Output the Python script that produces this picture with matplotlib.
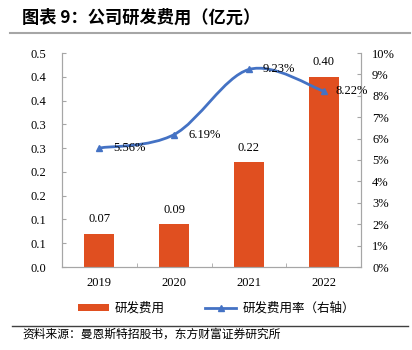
import matplotlib
matplotlib.use('Agg')
import numpy as np
import matplotlib.pyplot as plt
from matplotlib.path import Path
from matplotlib.patches import PathPatch, Patch
from matplotlib.lines import Line2D

# data
years = ['2019', '2020', '2021', '2022']
rd_cost = [0.07, 0.09, 0.22, 0.40]          # 亿元
rd_ratio = [5.56, 6.19, 9.23, 8.22]         # %
left_ticks = [0.0, 0.05, 0.10, 0.15, 0.20, 0.25, 0.30, 0.35, 0.40, 0.45]
left_tick_labels = ['0.0', '0.1', '0.1', '0.2', '0.2', '0.3', '0.3', '0.4', '0.4', '0.5']
right_ticks = [0, 1, 2, 3, 4, 5, 6, 7, 8, 9, 10]

bar_color = '#E04F20'
line_color = '#4472C4'
spine_color = '#A6A6A6'
num_font = 'Liberation Serif'
cjk_font = ['Noto Sans CJK SC', 'DejaVu Sans']

fig = plt.figure(figsize=(4.12, 3.5), dpi=100)
ax = fig.add_axes([62/412, 1-267/350, 299/412, 214/350])
ax2 = ax.twinx()

x = np.arange(len(years))
ax.bar(x, rd_cost, width=0.4, color=bar_color, zorder=2)
for xi, v in zip(x, rd_cost):
    ax.annotate('%.2f' % v, (xi, v), xytext=(0, 6), textcoords='offset points',
                ha='center', va='bottom', fontsize=9, family=num_font)

ax.set_xlim(-0.5, 3.5)
ax.set_ylim(0, 0.45)
ax.set_yticks(left_ticks)
ax.set_yticklabels(left_tick_labels)
ax.set_xticks(x)
ax.set_xticklabels(years)
ax.set_xticks([0.5, 1.5, 2.5], minor=True)

# smooth line like excel: bezier segments through the points
pts = list(zip(x.astype(float), rd_ratio))
verts = [pts[0]]
codes = [Path.MOVETO]
n = len(pts)
for i in range(n - 1):
    p0 = np.array(pts[max(i - 1, 0)])
    p1 = np.array(pts[i])
    p2 = np.array(pts[i + 1])
    p3 = np.array(pts[min(i + 2, n - 1)])
    c1 = p1 + (p2 - p0) / 6
    c2 = p2 - (p3 - p1) / 6
    verts += [tuple(c1), tuple(c2), tuple(p2)]
    codes += [Path.CURVE4] * 3
ax2.add_patch(PathPatch(Path(verts, codes), facecolor='none', edgecolor=line_color,
                        lw=2, zorder=3))
ax2.plot(x, rd_ratio, ls='none', marker='^', ms=5, color=line_color, zorder=4)
for xi, v in zip(x, rd_ratio):
    ax2.annotate('%.2f%%' % v, (xi, v), xytext=(10 if v != rd_ratio[-1] else 8.5, 0),
                 textcoords='offset points', ha='left', va='center',
                 fontsize=9, family=num_font)

ax2.set_ylim(0, 10)
ax2.set_yticks(right_ticks)
ax2.set_yticklabels(['%d%%' % t for t in right_ticks])

for a in (ax, ax2):
    a.spines['top'].set_visible(False)
    for s in ('left', 'right', 'bottom'):
        a.spines[s].set_color(spine_color)
    for lab in a.get_yticklabels() + a.get_xticklabels():
        lab.set_family(num_font)
        lab.set_fontsize(9)
ax.tick_params(axis='y', direction='in', length=3, color=spine_color, pad=11)
ax.tick_params(axis='x', which='major', length=0, pad=7)
ax.tick_params(axis='x', which='minor', direction='in', length=3, color=spine_color)
ax2.tick_params(axis='y', direction='in', length=3, color=spine_color, pad=8)

# legend
handles = [Patch(facecolor=bar_color, edgecolor='none'),
           Line2D([], [], color=line_color, lw=2, marker='^', ms=5)]
fig.legend(handles, ['研发费用', '研发费用率（右轴）'], loc='center',
           bbox_to_anchor=(0.525, 1-308/350), ncol=2, frameon=False,
           prop={'family': cjk_font, 'size': 9}, handlelength=2.5,
           handleheight=0.5, handletextpad=0.5, columnspacing=3.2)

# title and source
fig.text(22/412, 1-18/350, '图表 9：公司研发费用（亿元）', fontsize=12.4, fontweight='bold',
         family=cjk_font, ha='left', va='center')
fig.add_artist(Line2D([10/412, 410/412], [1-33/350, 1-33/350], color='#A6A6A6', lw=1.5))
fig.add_artist(Line2D([12/412, 408/412], [1-326/350, 1-326/350], color='#404040', lw=1))
fig.text(22/412, 1-334/350, '资料来源：曼恩斯特招股书，东方财富证券研究所', fontsize=8.5,
         family=cjk_font, ha='left', va='center')

fig.savefig('out.png', dpi=100)
